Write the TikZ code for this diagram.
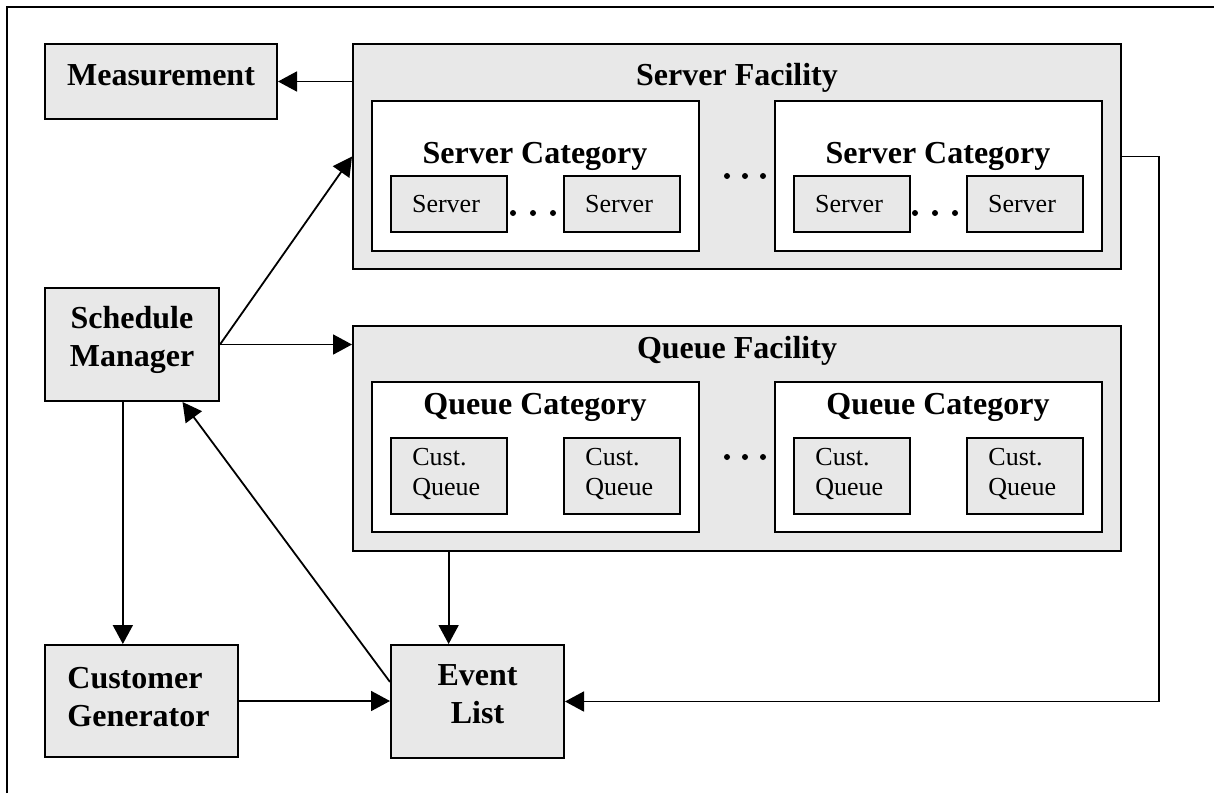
\documentclass[tikz,border=0pt]{standalone}
\usepackage{fontspec}
\setmainfont{Liberation Serif}
\usetikzlibrary{arrows.meta,fit,calc}
\definecolor{boxgray}{RGB}{232,232,232}

\begin{document}
\begin{tikzpicture}[x=0.5pt,y=-0.5pt,
  box/.style={draw=black, line width=1pt, fill=boxgray, inner sep=0pt},
  wbox/.style={draw=black, line width=1pt, fill=white, inner sep=0pt},
  bold/.style={font=\fontsize{16}{19}\selectfont\bfseries, inner sep=0pt},
  plain/.style={font=\fontsize{13}{15}\selectfont, inner sep=0pt},
  conn/.style={line width=0.9pt, -{Triangle[length=9.5pt,width=10pt]}},
  dotmark/.style={fill=black}
]
\useasboundingbox (0,0) rectangle (1214,793);

% outer frame
\draw[line width=1pt] (7,793) -- (7,7) -- (1214,7);

% stand-alone blocks
\node[box, fit={(45,44) (277,119)}] (meas) {};
\node[bold, anchor=base] (meas-t) at (161,85) {Measurement};

\node[box, fit={(45,288) (219,401)}] (sm) {};
\node[bold, align=center] (sm-t) at (132,340) {Schedule\\Manager};

\node[box, fit={(45,645) (238,757)}] (cg) {};
\node[bold, align=left, anchor=west] (cg-t) at (67,697) {Customer\\Generator};

\node[box, fit={(391,645) (564,758)}] (el) {};
\node[bold, align=center] (el-t) at (477.5,694) {Event\\List};

% server facility
\node[box, fit={(353,44) (1121,269)}] (sf) {};
\node[bold, anchor=base] (sf-t) at (737,85) {Server Facility};

\node[wbox, fit={(372,101) (699,251)}] (sc1) {};
\node[bold, anchor=base] (sc1-t) at (535,163) {Server Category};
\node[box, fit={(391,176) (507,232)}] (sv1) {};
\node[plain, anchor=base] (sv1-t) at (446,212) {Server};
\node[box, fit={(564,176) (680,232)}] (sv2) {};
\node[plain, anchor=base] (sv2-t) at (619,212) {Server};

\node[wbox, fit={(775,101) (1102,251)}] (sc2) {};
\node[bold, anchor=base] (sc2-t) at (938,163) {Server Category};
\node[box, fit={(794,176) (910,232)}] (sv3) {};
\node[plain, anchor=base] (sv3-t) at (849,212) {Server};
\node[box, fit={(967,176) (1083,232)}] (sv4) {};
\node[plain, anchor=base] (sv4-t) at (1022,212) {Server};

\foreach \x in {513,533,553,915,935,955} \fill[dotmark] (\x,213) circle[radius=1.5pt];
\foreach \x in {727,745,763} \fill[dotmark] (\x,176) circle[radius=1.5pt];

% queue facility
\node[box, fit={(353,326) (1121,551)}] (qf) {};
\node[bold, anchor=base] (qf-t) at (737,358) {Queue Facility};

\node[wbox, fit={(372,382) (699,532)}] (qc1) {};
\node[bold, anchor=base] (qc1-t) at (535,414) {Queue Category};
\node[box, fit={(391,438) (507,514)}] (cq1) {};
\node[plain, align=left, anchor=west] (cq1-t) at (412,474) {Cust.\\Queue};
\node[box, fit={(564,438) (680,514)}] (cq2) {};
\node[plain, align=left, anchor=west] (cq2-t) at (585,474) {Cust.\\Queue};

\node[wbox, fit={(775,382) (1102,532)}] (qc2) {};
\node[bold, anchor=base] (qc2-t) at (938,414) {Queue Category};
\node[box, fit={(794,438) (910,514)}] (cq3) {};
\node[plain, align=left, anchor=west] (cq3-t) at (815,474) {Cust.\\Queue};
\node[box, fit={(967,438) (1083,514)}] (cq4) {};
\node[plain, align=left, anchor=west] (cq4-t) at (988,474) {Cust.\\Queue};

\foreach \x in {727,745,763} \fill[dotmark] (\x,457) circle[radius=1.5pt];

% connectors
\draw[conn] (meas.east -| sf.west) -- (meas.east);
\draw[conn] (sm.east) -- (sf.west);
\draw[conn] (sm.east) -- (sm.east -| qf.west);

\coordinate (smb1) at ($(sm.south west)!0.448!(sm.south east)$);
\draw[conn] (smb1) -- (smb1 |- cg.north);

\coordinate (elw) at ($(el.north west)!0.33!(el.south west)$);
\coordinate (smb2) at ($(sm.south west)!0.787!(sm.south east)$);
\draw[conn] (elw) -- (smb2);

\draw[conn] (cg.east) -- (cg.east -| el.west);

\coordinate (eln) at ($(el.north west)!0.335!(el.north east)$);
\draw[conn] (eln |- qf.south) -- (eln);

\coordinate (rt) at (1159,400);
\draw[conn] (sf.east) -| (rt) |- (el.east);
\end{tikzpicture}
\end{document}
